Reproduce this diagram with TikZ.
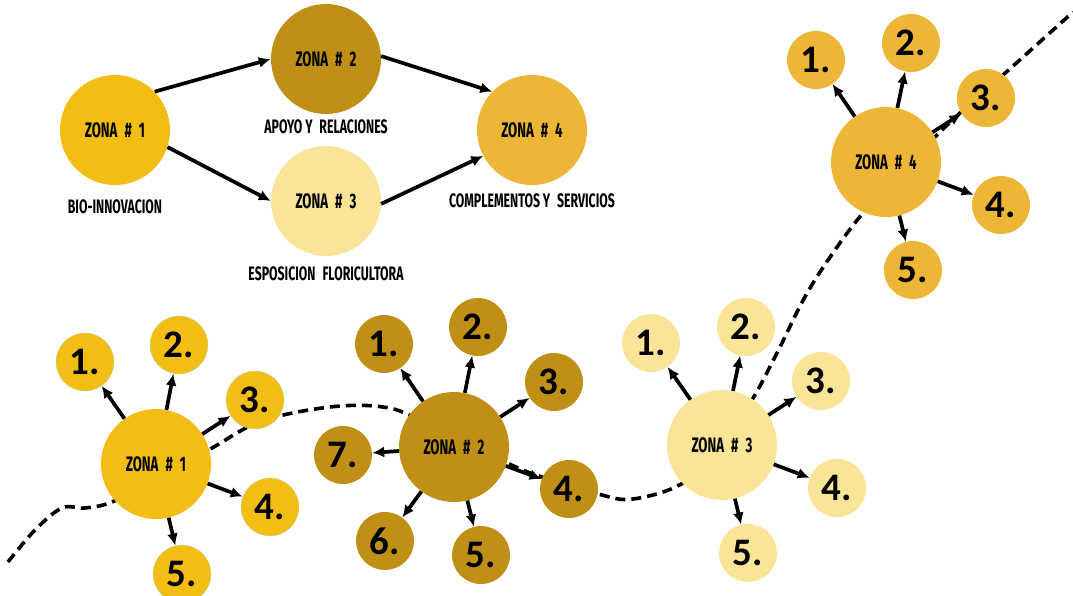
\documentclass[tikz,border=0pt]{standalone}
\usepackage{fontspec}
\setmainfont{Carlito}
\newfontfamily\zonafont{Fira Sans}[FakeStretch=0.63]
\usetikzlibrary{positioning, arrows.meta}
\definecolor{oroA}{HTML}{F2BE14}
\definecolor{oroB}{HTML}{C09016}
\definecolor{oroC}{HTML}{F9E498}
\definecolor{oroD}{HTML}{EDB637}
\definecolor{borde}{HTML}{B5DDB0}
\newcommand{\zn}[1]{ZONA\hspace{7pt}\#\hspace{7pt}#1}

\tikzset{
  zona/.style={circle, minimum size=110pt, inner sep=0pt, font=\zonafont\bfseries\fontsize{21}{21}\selectfont},
  punto/.style={circle, minimum size=58pt, inner sep=0pt, font=\bfseries\fontsize{39}{39}\selectfont},
  etiqueta/.style={inner sep=0pt, font=\zonafont\bfseries\fontsize{19.5}{19.5}\selectfont},
  flecha/.style={-{Latex[length=12pt,width=11pt]}, line width=3.7pt},
  ruta/.style={line width=3.6pt, dash pattern=on 10pt off 6pt}
}

\begin{document}
\begin{tikzpicture}[x=1pt, y=-1pt]
    \useasboundingbox (0,0) rectangle (1073,596);

    % Path through the zones
    \draw[ruta] plot[smooth, tension=0.6] coordinates {(8,562) (35,530) (62,508) (85,508) (112,502)
        (156,480) (212,448) (262,421) (330,407) (383,407) (420,420) (507,463) (545,478)
        (598,494) (633,499) (683,483) (722,445) (752,400) (777,353) (806,295) (835,250)
        (863,213) (900,172) (935,137) (960,113) (1003,75) (1073,12)};

    % Overview
    \node[zona, fill=oroA] (z1) at (115,130) {\zn{1}};
    \node[zona, fill=oroB] (z2) at (326,59) {\zn{2}};
    \node[zona, fill=oroC] (z3) at (326,201) {\zn{3}};
    \node[zona, fill=oroD] (z4) at (532,130) {\zn{4}};

    \node[etiqueta] (bio) [below=14pt of z1] {BIO-INNOVACION};
    \node[etiqueta] (apoyo) [below=5pt of z2] {APOYO Y\hspace{4pt} RELACIONES};
    \node[etiqueta] (expo) [below=10pt of z3] {ESPOSICION\hspace{4pt} FLORICULTORA};
    \node[etiqueta] (compl) [below=8pt of z4] {COMPLEMENTOS Y\hspace{4pt} SERVICIOS};

    \draw[flecha] (z1.44) -- (z2.180);
    \draw[flecha] (z1.-18) -- (z3.180);
    \draw[flecha] (z2.3) -- (z4.136);
    \draw[flecha] (z3.-3) -- (z4.208);

    % Zona 1
    \node[zona, fill=oroA] (a) at (156,464) {\zn{1}};
    \node[punto, fill=oroA, draw=borde, thin] (a1) at (85,362) {1.};
    \node[punto, fill=oroA, draw=borde, thin] (a2) at (179,345) {2.};
    \node[punto, fill=oroA, draw=borde, thin] (a3) at (255,400) {3.};
    \node[punto, fill=oroA, draw=borde, thin] (a4) at (270,507) {4.};
    \node[punto, fill=oroA, draw=borde, thin] (a5) at (182,574) {5.};
    \draw[flecha] (a) -- (a1);
    \draw[flecha] (a) -- (a2);
    \draw[flecha] (a) -- (a3);
    \draw[flecha] (a) -- (a4);
    \draw[flecha] (a) -- (a5);

    % Zona 2
    \node[zona, fill=oroB] (b) at (454,447) {\zn{2}};
    \node[punto, fill=oroB] (b1) at (384,344) {1.};
    \node[punto, fill=oroB] (b2) at (478,327) {2.};
    \node[punto, fill=oroB] (b3) at (554,382) {3.};
    \node[punto, fill=oroB] (b4) at (569,489) {4.};
    \node[punto, fill=oroB] (b5) at (481,555) {5.};
    \node[punto, fill=oroB] (b6) at (385,541) {6.};
    \node[punto, fill=oroB] (b7) at (343,455) {7.};
    \draw[flecha] (b) -- (b1);
    \draw[flecha] (b) -- (b2);
    \draw[flecha] (b) -- (b3);
    \draw[flecha] (b) -- (b4);
    \draw[flecha] (b) -- (b5);
    \draw[flecha] (b) -- (b6);
    \draw[flecha] (b) -- (b7);

    % Zona 3
    \node[zona, fill=oroC] (c) at (722,445) {\zn{3}};
    \node[punto, fill=oroC] (c1) at (651,343) {1.};
    \node[punto, fill=oroC] (c2) at (746,327) {2.};
    \node[punto, fill=oroC] (c3) at (821,381) {3.};
    \node[punto, fill=oroC] (c4) at (837,488) {4.};
    \node[punto, fill=oroC] (c5) at (748,553) {5.};
    \draw[flecha] (c) -- (c1);
    \draw[flecha] (c) -- (c2);
    \draw[flecha] (c) -- (c3);
    \draw[flecha] (c) -- (c4);
    \draw[flecha] (c) -- (c5);

    % Zona 4
    \node[zona, fill=oroD] (d) at (886,162) {\zn{4}};
    \node[punto, fill=oroD] (d1) at (816,60) {1.};
    \node[punto, fill=oroD] (d2) at (911,43) {2.};
    \node[punto, fill=oroD] (d3) at (986,98) {3.};
    \node[punto, fill=oroD] (d4) at (1001,205) {4.};
    \node[punto, fill=oroD] (d5) at (913,270) {5.};
    \draw[flecha] (d) -- (d1);
    \draw[flecha] (d) -- (d2);
    \draw[flecha] (d) -- (d3);
    \draw[flecha] (d) -- (d4);
    \draw[flecha] (d) -- (d5);
\end{tikzpicture}
\end{document}
